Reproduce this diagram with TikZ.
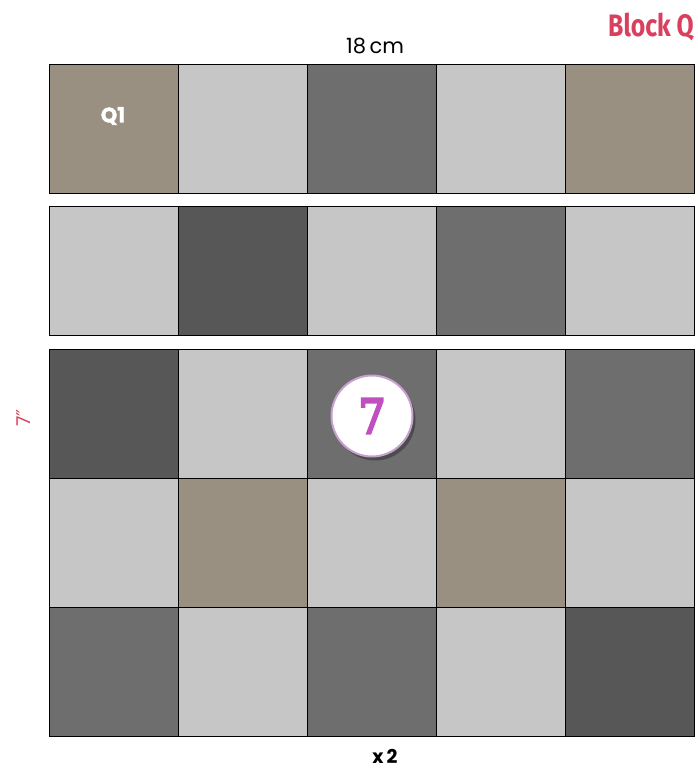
\documentclass[tikz,border=0pt]{standalone}
\usepackage{fontspec}
\setmainfont{Poppins}
\newfontfamily\blockfont{Fira Sans}
\newfontfamily\symfont{DejaVu Sans}
\newfontfamily\slabfont{DejaVu Serif}[FakeBold=5]
\newfontfamily\heavyfont{Poppins}[FakeBold=1.5]
\usetikzlibrary{shadows}
\definecolor{tanc}{HTML}{9A9082}
\definecolor{lightc}{HTML}{C6C6C6}
\definecolor{midc}{HTML}{6E6E6E}
\definecolor{darkc}{HTML}{575757}
\definecolor{redc}{HTML}{D9405E}
\definecolor{purpc}{HTML}{C050C0}
\definecolor{ringc}{HTML}{C8A0D0}
\begin{document}
\begin{tikzpicture}[x=1pt,y=-1pt,
  cell/.style={draw=black,line width=0.8pt,minimum width=129pt,minimum height=129pt,inner sep=0pt,outer sep=0pt},
  lbl/.style={inner sep=0pt}]
\useasboundingbox (0,0) rectangle (697,769);
\fill[white] (0,0) rectangle (697,769);
% row 1
\foreach \c/\col in {1/tanc,2/lightc,3/midc,4/lightc,5/tanc}
  \node[cell,fill=\col] (r1c\c) at ({49+129*(\c-0.5)},128.5) {};
% row 2
\foreach \c/\col in {1/lightc,2/darkc,3/lightc,4/midc,5/lightc}
  \node[cell,fill=\col] (r2c\c) at ({49+129*(\c-0.5)},271) {};
% row 3
\foreach \c/\col in {1/darkc,2/lightc,3/midc,4/lightc,5/midc}
  \node[cell,fill=\col] (r3c\c) at ({49+129*(\c-0.5)},413.5) {};
% row 4
\foreach \c/\col in {1/lightc,2/tanc,3/lightc,4/tanc,5/lightc}
  \node[cell,fill=\col] (r4c\c) at ({49+129*(\c-0.5)},542.5) {};
% row 5
\foreach \c/\col in {1/midc,2/lightc,3/midc,4/lightc,5/darkc}
  \node[cell,fill=\col] (r5c\c) at ({49+129*(\c-0.5)},671.5) {};
% labels
\node[lbl,text=white,font=\heavyfont\fontsize{21}{21}\selectfont\bfseries] (q1) at (113,116) {Q1};
\node[lbl,anchor=east,text=redc,font=\blockfont\fontsize{31}{31}\selectfont\bfseries] (block) at (694,27) {\scalebox{0.8}[1]{Block Q}};
\node[lbl,font=\fontsize{21}{21}\selectfont] (dim) at (375,46) {18\,cm};
\node[lbl,rotate=90,text=redc,font=\fontsize{19}{19}\selectfont] (inch) at (24,418) {7{\symfont ″}};
\node[lbl,font=\fontsize{19}{19}\selectfont\bfseries] (times) at (385,756) {x\,2};
\node[circle,draw=ringc,line width=2pt,fill=white,minimum size=81pt,inner sep=0pt,
  drop shadow={shadow xshift=3pt,shadow yshift=-4pt,opacity=0.3,fill=black}] (seven) at (372,416) {};
\node[lbl,text=purpc,font=\slabfont\fontsize{48}{48}\selectfont] at (seven.center) {\scalebox{0.9}[1]{7}};
\end{tikzpicture}
\end{document}
